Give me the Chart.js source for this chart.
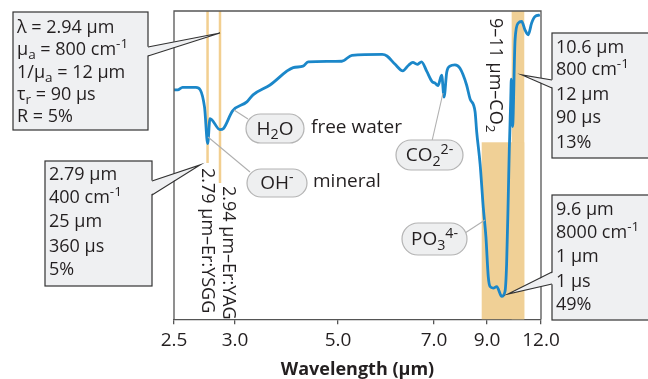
<!DOCTYPE html>
<html>
<head>
<meta charset="utf-8">
<script src="https://cdn.jsdelivr.net/npm/chart.js"></script>
<style>
  html, body { margin: 0; padding: 0; background: #fff; }
  #wrap { width: 648px; height: 379px; }
</style>
</head>
<body>
<div id="wrap"><canvas id="spectrum" width="648" height="379"></canvas></div>
<script>
// absorption spectrum of tissue (arbitrary transmission units, 0-100)
const wavelengths = [2.50, 2.53, 2.57, 2.68, 2.75, 2.776, 2.795, 2.877, 2.906, 2.98, 3.23, 3.35, 3.68,
  4.13, 4.32, 4.42, 5.08, 5.29, 5.92, 6.02, 6.19, 6.35, 6.47, 6.56, 6.65, 6.74, 6.85, 6.96, 7.04,
  7.15, 7.29, 7.38, 7.48, 7.60, 7.79, 7.98, 8.23, 8.36, 8.55, 8.61, 8.74, 8.86, 8.96, 9.07, 9.17,
  9.35, 9.54, 9.82, 10.00, 10.09, 10.18, 10.24, 10.32, 10.35, 10.42, 10.56, 10.74, 10.93, 11.11,
  11.29, 11.48, 11.67, 11.94];
const signal = [74.4, 74.4, 75.2, 75.2, 68.9, 57.0, 65.1, 61.5, 61.9, 67.6, 70.5, 72.8, 76.0,
  81.6, 82.1, 83.5, 83.7, 85.6, 85.9, 85.4, 82.7, 80.6, 82.4, 83.3, 82.7, 83.5, 80.4, 77.1, 76.6,
  75.8, 79.2, 72.1, 80.1, 82.1, 82.5, 81.4, 76.0, 71.5, 67.3, 60.9, 50.3, 36.2, 26.6, 13.8, 10.6,
  10.1, 10.6, 7.4, 9.0, 17.9, 39.4, 55.4, 71.5, 77.9, 62.5, 90.7, 96.1, 96.6, 93.9,
  92.3, 96.1, 98.2, 98.7];

const tickWavelengths = [2.5, 3.0, 5.0, 7.0, 9.0, 12.0];
const tickLabels = ['2.5', '3.0', '5.0', '7.0', '9.0', '12.0'];
// the axis is not to scale: where each tick sits along it (axis units)
const tickOffsets = [0, 61, 164, 260, 313, 367];

// absorption bands as drawn
const laserLines = [2.775, 2.877];       // Er:YSGG, Er:YAG
const co2Band = [10.37, 11.07];
const phosphateBand = [8.8, 11.07, 57.4]; // from, to, top

const FONT = "'Open Sans', sans-serif";
const INK = '#231f20';
const TAN = '#f0d096';
const BLUE = '#1b87c9';

function warp(w) {
  const n = tickWavelengths.length;
  for (let i = 1; i < n; i++) {
    if (w <= tickWavelengths[i] || i === n - 1) {
      const a = tickWavelengths[i - 1], b = tickWavelengths[i];
      return tickOffsets[i - 1] + (w - a) / (b - a) * (tickOffsets[i] - tickOffsets[i - 1]);
    }
  }
}

// "μ_{a} = 800 cm^{-1}" -> [['μ',''],['a','sub'],...]
function parse(s) {
  return s.split(/(_\{[^}]*\}|\^\{[^}]*\})/).filter(p => p).map(p => {
    if (p[0] === '_') return [p.slice(2, -1), 'sub'];
    if (p[0] === '^') return [p.slice(2, -1), 'sup'];
    return [p, ''];
  });
}

function richWidth(ctx, s, size) {
  let w = 0;
  for (const [t, k] of parse(s)) {
    ctx.font = `${k ? size * 0.75 : size}px ${FONT}`;
    w += ctx.measureText(t).width;
  }
  return w;
}

function drawRich(ctx, s, x, y, size) {
  let cx = x;
  ctx.textBaseline = 'middle';
  ctx.textAlign = 'left';
  for (const [t, k] of parse(s)) {
    ctx.font = `${k ? size * 0.75 : size}px ${FONT}`;
    const dy = k === 'sub' ? size * 0.3 : k === 'sup' ? -size * 0.32 : 0;
    ctx.fillText(t, cx, y + dy);
    cx += ctx.measureText(t).width;
  }
}

function pill(ctx, x0, y0, x1, y1, label) {
  const r = (y1 - y0) / 2;
  ctx.beginPath();
  ctx.moveTo(x0 + r, y0);
  ctx.lineTo(x1 - r, y0);
  ctx.arc(x1 - r, y0 + r, r, -Math.PI / 2, Math.PI / 2);
  ctx.lineTo(x0 + r, y1);
  ctx.arc(x0 + r, y0 + r, r, Math.PI / 2, Math.PI * 1.5);
  ctx.closePath();
  ctx.fillStyle = '#eeeff0';
  ctx.fill();
  ctx.strokeStyle = '#b4b4b4';
  ctx.lineWidth = 1.2;
  ctx.stroke();
  ctx.fillStyle = INK;
  const w = richWidth(ctx, label, 19);
  drawRich(ctx, label, (x0 + x1) / 2 - w / 2, (y0 + y1) / 2 + 1, 19);
}

function leader(ctx, x0, y0, x1, y1) {
  ctx.strokeStyle = '#b0b0b0';
  ctx.lineWidth = 1.1;
  ctx.beginPath();
  ctx.moveTo(x0, y0);
  ctx.lineTo(x1, y1);
  ctx.stroke();
}

// box with a pointed wedge; side is the x of the edge the wedge leaves from
function callout(ctx, b) {
  ctx.fillStyle = '#eff0f2';
  ctx.strokeStyle = '#333';
  ctx.lineWidth = 1.2;
  ctx.fillRect(b.x0, b.y0, b.x1 - b.x0, b.y1 - b.y0);
  ctx.strokeRect(b.x0, b.y0, b.x1 - b.x0, b.y1 - b.y0);
  const inward = b.side === b.x0 ? 2 : -2;
  ctx.beginPath();
  ctx.moveTo(b.side + inward, b.base[0]);
  ctx.lineTo(b.tip[0], b.tip[1]);
  ctx.lineTo(b.side + inward, b.base[1]);
  ctx.closePath();
  ctx.fill();
  ctx.beginPath();
  ctx.moveTo(b.side, b.base[0]);
  ctx.lineTo(b.tip[0], b.tip[1]);
  ctx.lineTo(b.side, b.base[1]);
  ctx.stroke();
  ctx.fillStyle = INK;
  b.lines.forEach((s, i) => drawRich(ctx, s, b.x0 + 4, b.ly[i], 18));
}

function vertical(ctx, s, x, y) {
  ctx.save();
  ctx.translate(x, y);
  ctx.rotate(Math.PI / 2);
  ctx.fillStyle = INK;
  drawRich(ctx, s, 0, 0, 18);
  ctx.restore();
}

const overlay = {
  id: 'overlay',
  beforeDatasetsDraw(chart) {
    const { ctx, chartArea: a, scales: { x, y } } = chart;
    ctx.save();
    ctx.fillStyle = TAN;
    const c0 = x.getPixelForValue(warp(co2Band[0])), c1 = x.getPixelForValue(warp(co2Band[1]));
    ctx.fillRect(c0, a.top, c1 - c0, a.bottom - a.top);
    const p0 = x.getPixelForValue(warp(phosphateBand[0])), p1 = x.getPixelForValue(warp(phosphateBand[1]));
    const pt = y.getPixelForValue(phosphateBand[2]);
    ctx.fillRect(p0, pt, p1 - p0, a.bottom - pt);
    ctx.strokeStyle = '#f2cf90';
    ctx.lineWidth = 2.5;
    const ends = [163, 183];
    laserLines.forEach((w, i) => {
      const px = x.getPixelForValue(warp(w));
      ctx.beginPath();
      ctx.moveTo(px, a.top);
      ctx.lineTo(px, ends[i]);
      ctx.stroke();
    });
    ctx.restore();
  },
  afterDatasetsDraw(chart) {
    const { ctx, chartArea: a } = chart;
    ctx.save();
    // frame
    ctx.strokeStyle = '#555';
    ctx.lineWidth = 1.3;
    ctx.beginPath();
    ctx.moveTo(a.left, a.bottom);
    ctx.lineTo(a.left, a.top);
    ctx.lineTo(a.right, a.top);
    ctx.lineTo(a.right, a.bottom);
    ctx.stroke();

    vertical(ctx, '2.79 μm–Er:YSGG', 207, 168);
    vertical(ctx, '2.94 μm–Er:YAG', 228, 186);
    vertical(ctx, '9–11 μm–CO_{2}', 495, 18);

    leader(ctx, 234, 110, 248, 119);
    leader(ctx, 208, 137, 250, 172);
    leader(ctx, 432, 141, 443, 93);
    leader(ctx, 465, 233, 485, 220);
    pill(ctx, 246, 114, 304, 143, 'H_{2}O');
    pill(ctx, 247, 169, 307, 197, 'OH^{-}');
    pill(ctx, 396, 140, 463, 170, 'CO_{2}^{2-}');
    pill(ctx, 402, 223, 467, 255, 'PO_{3}^{4-}');
    ctx.fillStyle = INK;
    drawRich(ctx, 'free water', 311, 128, 19);
    drawRich(ctx, 'mineral', 313, 182, 19);

    callout(ctx, { x0: 13, y0: 12, x1: 148, y1: 130, side: 148, base: [47, 56], tip: [220, 33],
      ly: [28, 50, 73, 95, 117],
      lines: ['λ = 2.94 μm', 'μ_{a} = 800 cm^{-1}', '1/μ_{a} = 12 μm', 'τ_{r} = 90 μs', 'R = 5%'] });
    callout(ctx, { x0: 45, y0: 161, x1: 152, y1: 286, side: 152, base: [181, 195], tip: [200, 165],
      ly: [175, 198, 222, 247, 270],
      lines: ['2.79 μm', '400 cm^{-1}', '25 μm', '360 μs', '5%'] });
    callout(ctx, { x0: 552, y0: 33, x1: 652, y1: 158, side: 552, base: [80, 88], tip: [522, 75],
      ly: [48, 70, 95, 118, 143],
      lines: ['10.6 μm', '800 cm^{-1}', '12 μm', '90 μs', '13%'] });
    callout(ctx, { x0: 552, y0: 195, x1: 652, y1: 320, side: 552, base: [272, 284], tip: [508, 294],
      ly: [210, 233, 257, 282, 305],
      lines: ['9.6 μm', '8000 cm^{-1}', '1 μm', '1 μs', '49%'] });
    ctx.restore();
  }
};

new Chart(document.getElementById('spectrum').getContext('2d'), {
  type: 'line',
  data: {
    datasets: [{
      data: wavelengths.map((w, i) => ({ x: warp(w), y: signal[i] })),
      borderColor: BLUE,
      borderWidth: 2.8,
      pointRadius: 0,
      cubicInterpolationMode: 'monotone',
      fill: false
    }]
  },
  options: {
    responsive: false,
    animation: false,
    layout: { padding: { left: 174, right: 107, top: 11, bottom: 0 } },
    plugins: { legend: { display: false }, tooltip: { enabled: false } },
    scales: {
      x: {
        type: 'linear',
        min: 0,
        max: tickOffsets[tickOffsets.length - 1],
        afterBuildTicks: (s) => { s.ticks = tickOffsets.map(v => ({ value: v })); },
        ticks: {
          callback: (v, i) => tickLabels[i],
          color: INK,
          font: { family: FONT, size: 19 },
          padding: 5,
          autoSkip: false,
          maxRotation: 0
        },
        grid: { display: true, drawOnChartArea: false, drawTicks: true, tickLength: 5, color: '#555', lineWidth: 1.3 },
        border: { display: true, color: '#555', width: 1.3 },
        title: {
          display: true,
          text: 'Wavelength (μm)',
          color: INK,
          font: { family: FONT, size: 18, weight: 'bold', lineHeight: 1 },
          padding: { top: 4, bottom: 0 }
        }
      },
      y: { display: false, min: 0, max: 100 }
    }
  },
  plugins: [overlay]
});
</script>
</body>
</html>
